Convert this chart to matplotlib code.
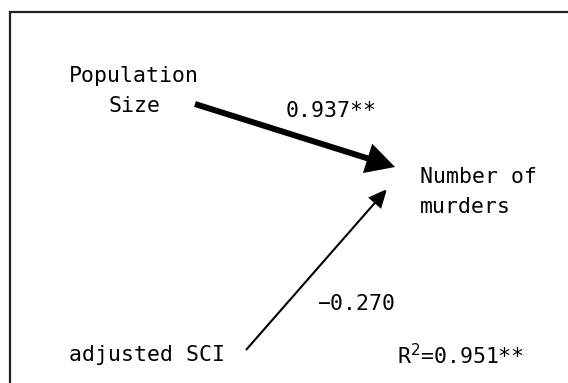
"""Path diagram: predictors of the number of murders"""

import matplotlib
matplotlib.use("Agg")
import matplotlib.pyplot as plt
from matplotlib.patches import FancyArrowPatch, ArrowStyle

# path model
predictors = ["Population\nSize", "adjusted SCI"]
outcome = "Number of\nmurders"
coefs = [0.937, -0.270]
coef_sig = ["**", ""]
r_squared = 0.951
r_sig = "**"

# layout in pixel units (y downwards)
pred_pos = [(134, 91), (69, 355)]
pred_ha = ["center", "left"]
outcome_pos = (420, 192)
arrow_start = [(195, 104), (246, 350)]
arrow_end = [(395, 167), (387, 189)]
coef_pos = [(286, 111), (317, 304)]
r2_pos = (397, 356)

FONT = "DejaVu Sans Mono"
FS = 15.5

fig = plt.figure(figsize=(5.68, 3.83), dpi=100)
ax = fig.add_axes([0, 0, 1, 1])
ax.set_xlim(0, 568)
ax.set_ylim(383, 0)
ax.axis("off")

# frame (only top and left edges fall inside the image)
ax.plot([10, 10, 568], [383, 12, 12], color="#222222", lw=1.6,
        solid_joinstyle="miter", solid_capstyle="butt")

for label, (x, y), ha in zip(predictors, pred_pos, pred_ha):
    ax.text(x, y, label, ha=ha, va="center", family=FONT, fontsize=FS,
            multialignment="center", linespacing=1.65)

ax.text(outcome_pos[0], outcome_pos[1], outcome, ha="left", va="center",
        family=FONT, fontsize=FS, linespacing=1.6)

for c, sig, p0, p1, (tx, ty) in zip(coefs, coef_sig, arrow_start, arrow_end, coef_pos):
    strong = sig != ""
    if strong:
        style = ArrowStyle("-|>", head_length=14, head_width=7.5)
        lw = 4.3
    else:
        style = ArrowStyle("-|>", head_length=11, head_width=5)
        lw = 1.5
    arr = FancyArrowPatch(p0, p1, arrowstyle=style, mutation_scale=1,
                          shrinkA=0, shrinkB=0, lw=lw, color="black",
                          joinstyle="miter", capstyle="butt")
    ax.add_patch(arr)
    txt = f"{c:.3f}".replace("-", "\u2212") + sig
    ax.text(tx, ty, txt, ha="left", va="center", family=FONT, fontsize=FS)

ax.text(r2_pos[0], r2_pos[1], f"R$^2$={r_squared:.3f}{r_sig}", ha="left",
        va="center", family=FONT, fontsize=FS)

fig.savefig("out.png", dpi=100)
